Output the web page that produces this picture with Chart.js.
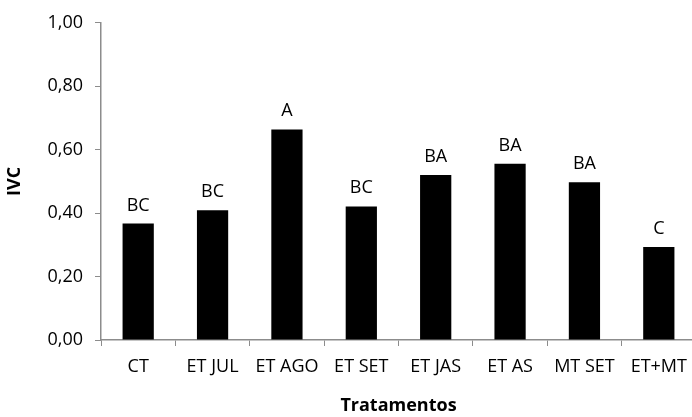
<!DOCTYPE html>
<html lang="pt">
<head>
<meta charset="UTF-8">
<title>IVC por tratamento</title>
<style>
  html, body { margin: 0; padding: 0; background: #fff; overflow: hidden; }
  #wrap { width: 700px; height: 417px; }
</style>
</head>
<body>
<div id="wrap"><canvas id="chart" width="700" height="417"></canvas></div>
<script src="https://cdn.jsdelivr.net/npm/chart.js"></script>
<script>
// values
const tratamentos = ['CT', 'ET JUL', 'ET AGO', 'ET SET', 'ET JAS', 'ET AS', 'MT SET', 'ET+MT'];
const ivc = [0.367, 0.409, 0.664, 0.421, 0.520, 0.556, 0.497, 0.293];
const letras = ['BC', 'BC', 'A', 'BC', 'BA', 'BA', 'BA', 'C'];
const yTicks = [0, 0.2, 0.4, 0.6, 0.8, 1.0];

const FONT = "'Open Sans', sans-serif";
const AXIS_GREY = '#8c8c8c';

// letters above each bar
const letrasPlugin = {
  id: 'letras',
  afterDatasetsDraw(chart) {
    const ctx = chart.ctx;
    const meta = chart.getDatasetMeta(0);
    ctx.save();
    ctx.font = '18px ' + FONT;
    ctx.fillStyle = '#000';
    ctx.textAlign = 'center';
    ctx.textBaseline = 'alphabetic';
    meta.data.forEach((bar, i) => {
      ctx.fillText(letras[i], bar.x, bar.y - 13);
    });
    ctx.restore();
  }
};

new Chart(document.getElementById('chart'), {
  type: 'bar',
  data: {
    labels: tratamentos,
    datasets: [{
      data: ivc,
      backgroundColor: '#000',
      borderWidth: 0,
      barPercentage: 0.42,
      categoryPercentage: 1
    }]
  },
  options: {
    responsive: false,
    animation: false,
    layout: { padding: { top: 17, right: 4, bottom: 0, left: 0 } },
    plugins: {
      legend: { display: false },
      tooltip: { enabled: false }
    },
    scales: {
      x: {
        afterFit(scale) { scale.height = 77; },
        grid: {
          offset: true,
          drawOnChartArea: false,
          drawTicks: true,
          tickLength: 6,
          color: AXIS_GREY
        },
        border: { color: AXIS_GREY, width: 1.5 },
        ticks: {
          color: '#000',
          font: { family: FONT, size: 18 },
          padding: 10,
          maxRotation: 0,
          autoSkip: false
        },
        title: {
          display: true,
          text: 'Tratamentos',
          color: '#000',
          font: { family: FONT, size: 18, weight: 'bold' },
          padding: { top: 0, bottom: 0 }
        }
      },
      y: {
        min: 0,
        max: 1,
        afterFit(scale) { scale.width = 101; },
        afterBuildTicks(scale) { scale.ticks = yTicks.map(v => ({ value: v })); },
        grid: {
          drawOnChartArea: false,
          drawTicks: true,
          tickLength: 6,
          color: AXIS_GREY
        },
        border: { color: AXIS_GREY, width: 1.5 },
        ticks: {
          color: '#000',
          font: { family: FONT, size: 18 },
          padding: 12,
          callback: v => v.toFixed(2).replace('.', ',')
        },
        title: {
          display: true,
          text: 'IVC',
          color: '#000',
          font: { family: FONT, size: 18, weight: 'bold' },
          padding: { top: 4, bottom: 0 }
        }
      }
    }
  },
  plugins: [letrasPlugin]
});
</script>
</body>
</html>
